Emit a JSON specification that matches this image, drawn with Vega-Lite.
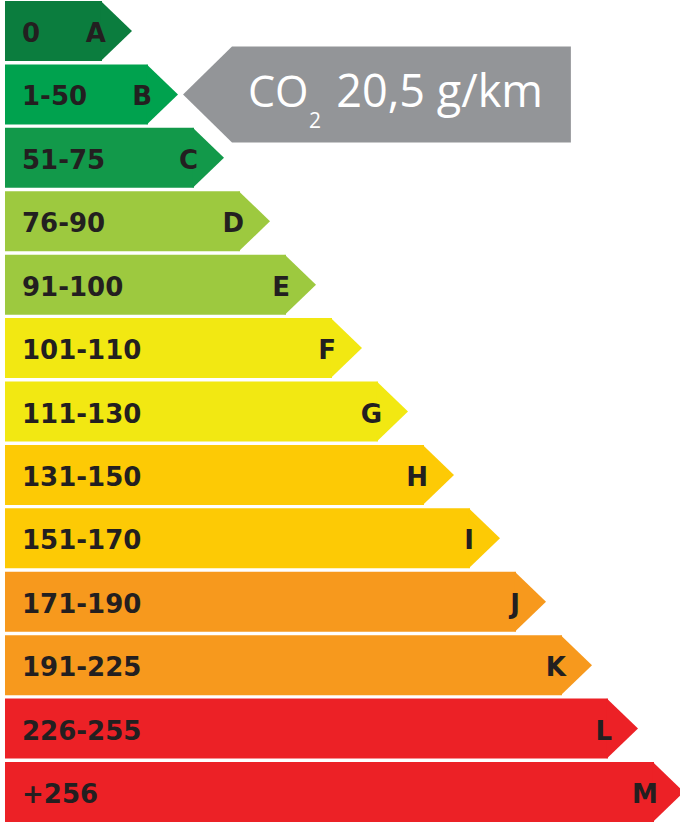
{
  "$schema": "https://vega.github.io/schema/vega-lite/v6.json",
  "width": 680,
  "height": 821,
  "padding": {"left": 0, "right": 0, "top": 1, "bottom": 1},
  "autosize": {"type": "none"},
  "background": "white",
  "config": {"view": {"stroke": null}},
  "datasets": {
    "classes": [
      {"class": "A", "range": "0", "rank": 1},
      {"class": "B", "range": "1-50", "rank": 2},
      {"class": "C", "range": "51-75", "rank": 3},
      {"class": "D", "range": "76-90", "rank": 4},
      {"class": "E", "range": "91-100", "rank": 5},
      {"class": "F", "range": "101-110", "rank": 6},
      {"class": "G", "range": "111-130", "rank": 7},
      {"class": "H", "range": "131-150", "rank": 8},
      {"class": "I", "range": "151-170", "rank": 9},
      {"class": "J", "range": "171-190", "rank": 10},
      {"class": "K", "range": "191-225", "rank": 11},
      {"class": "L", "range": "226-255", "rank": 12},
      {"class": "M", "range": "+256", "rank": 13}
    ],
    "callout": [
      {"class": "B", "rank": 2, "gas": "CO", "sub": "2", "value": "20,5 g/km"}
    ]
  },
  "encoding": {
    "y": {
      "field": "class",
      "type": "nominal",
      "axis": null,
      "scale": {
        "domain": ["A", "B", "C", "D", "E", "F", "G", "H", "I", "J", "K", "L", "M"],
        "paddingInner": 0.0539,
        "paddingOuter": 0
      }
    }
  },
  "layer": [
    {
      "data": {"name": "classes"},
      "mark": {"type": "bar", "cornerRadius": 0},
      "encoding": {
        "x": {
          "field": "rank",
          "type": "quantitative",
          "axis": null,
          "scale": {"domain": [-1.21739, 13.56522], "zero": false, "nice": false}
        },
        "x2": {"datum": -1.1087},
        "color": {
          "field": "class",
          "type": "nominal",
          "legend": null,
          "scale": {
            "domain": ["A", "B", "C", "D", "E", "F", "G", "H", "I", "J", "K", "L", "M"],
            "range": ["#0b7d3e", "#00a24e", "#12994a", "#9dc93f", "#9dc93f", "#f2e812", "#f2e812", "#fdca05", "#fdca05", "#f7991d", "#f7991d", "#ec2126", "#ec2126"]
          }
        }
      }
    },
    {
      "data": {"name": "classes"},
      "mark": {
        "type": "point",
        "shape": "M-0.04,-1L1,0L-0.04,1Z",
        "size": 3600,
        "filled": true,
        "opacity": 1,
        "strokeWidth": 0
      },
      "encoding": {
        "x": {"field": "rank", "type": "quantitative"},
        "color": {"field": "class", "type": "nominal", "legend": null}
      }
    },
    {
      "data": {"name": "classes"},
      "mark": {
        "type": "text",
        "align": "left",
        "baseline": "alphabetic",
        "dx": 17,
        "dy": 11,
        "font": "DejaVu Sans",
        "fontWeight": "bold",
        "fontSize": 26,
        "color": "#231f20"
      },
      "encoding": {
        "x": {"datum": -1.1087},
        "text": {"field": "range"}
      }
    },
    {
      "data": {"name": "classes"},
      "mark": {
        "type": "text",
        "align": "right",
        "baseline": "alphabetic",
        "dx": 4,
        "dy": 11,
        "font": "DejaVu Sans",
        "fontWeight": "bold",
        "fontSize": 26,
        "color": "#231f20"
      },
      "encoding": {
        "x": {"field": "rank", "type": "quantitative"},
        "text": {"field": "class"}
      }
    },
    {
      "data": {"name": "callout"},
      "mark": {
        "type": "point",
        "shape": "M0.73,0L1.75,-1L8.81,-1L8.81,1L1.75,1Z",
        "size": 9216,
        "filled": true,
        "opacity": 1,
        "strokeWidth": 0,
        "color": "#939598"
      },
      "encoding": {
        "x": {"field": "rank", "type": "quantitative"}
      }
    },
    {
      "data": {"name": "callout"},
      "mark": {
        "type": "text",
        "align": "left",
        "baseline": "alphabetic",
        "dx": 100,
        "dy": 12.6,
        "font": "Open Sans",
        "fontSize": 43,
        "color": "white"
      },
      "encoding": {
        "x": {"field": "rank", "type": "quantitative"},
        "text": {"field": "gas"}
      }
    },
    {
      "data": {"name": "callout"},
      "mark": {
        "type": "text",
        "align": "left",
        "baseline": "alphabetic",
        "dx": 161,
        "dy": 34,
        "font": "Open Sans",
        "fontSize": 21,
        "color": "white"
      },
      "encoding": {
        "x": {"field": "rank", "type": "quantitative"},
        "text": {"field": "sub"}
      }
    },
    {
      "data": {"name": "callout"},
      "mark": {
        "type": "text",
        "align": "right",
        "baseline": "alphabetic",
        "dx": 395,
        "dy": 12.6,
        "font": "Open Sans",
        "fontSize": 45,
        "color": "white"
      },
      "encoding": {
        "x": {"field": "rank", "type": "quantitative"},
        "text": {"field": "value"}
      }
    }
  ]
}
